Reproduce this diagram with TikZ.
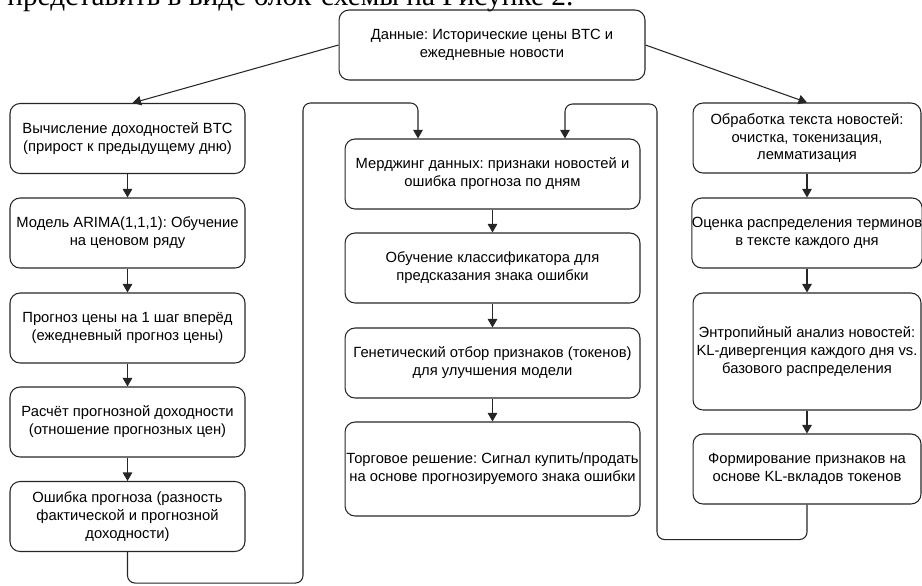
\documentclass[tikz,border=0pt]{standalone}
\usepackage{fontspec}
\setmainfont{Liberation Sans}
\newfontfamily\bodyserif{Liberation Serif}
\usetikzlibrary{arrows.meta}
\frenchspacing

\begin{document}
\begin{tikzpicture}[x=0.02cm, y=-0.02cm,
    stage/.style={draw=black!85, line width=0.6pt, rounded corners=0.2cm, align=center,
        inner sep=0pt, minimum height=1.4cm, font=\fontsize{8.4}{10.2}\selectfont},
    leftcol/.style={stage, minimum width=4.7cm},
    midcol/.style={stage, minimum width=5.9cm},
    rightcol/.style={stage, minimum width=4.56cm},
    flow/.style={draw=black!85, line width=0.6pt, rounded corners=0.15cm,
        -{Triangle[length=0.17cm, width=0.19cm]}}]
        \useasboundingbox (0, 0) rectangle (922, 585);

        \begin{scope}
            \clip (0, 0) rectangle (922, 585);
            \node[anchor=base west, inner sep=0pt, font=\bodyserif\fontsize{16.7}{20}\selectfont] (caption) at (7, 5)
                {представить в виде блок-схемы на Рисунке 2.};
        \end{scope}

        \node[stage, minimum width=6.12cm] (data) at (492, 45) {Данные: Исторические цены BTC и\\ежедневные новости};

        \node[leftcol] (ret) at (127.5, 138.5) {Вычисление доходностей BTC\\(прирост к предыдущему дню)};
        \node[leftcol] (arima) at (127.5, 233) {Модель ARIMA(1,1,1): Обучение\\на ценовом ряду};
        \node[leftcol] (fcst) at (127.5, 328) {Прогноз цены на 1 шаг вперёд\\(ежедневный прогноз цены)};
        \node[leftcol] (fret) at (127.5, 422) {Расчёт прогнозной доходности\\(отношение прогнозных цен)};
        \node[leftcol] (err) at (127.5, 516.5) {Ошибка прогноза (разность\\фактической и прогнозной\\доходности)};

        \node[midcol] (merge) at (492.5, 174) {Мерджинг данных: признаки новостей и\\ошибка прогноза по дням};
        \node[midcol] (clf) at (492.5, 268) {Обучение классификатора для\\предсказания знака ошибки};
        \node[midcol] (ga) at (492.5, 363) {Генетический отбор признаков (токенов)\\для улучшения модели};
        \node[midcol, minimum height=1.88cm] (trade) at (492.5, 469) {Торговое решение: Сигнал купить/продать\\на основе прогнозируемого знака ошибки};

        \node[rightcol] (prep) at (807, 138) {Обработка текста новостей:\\очистка, токенизация,\\лемматизация};
        \node[rightcol] (dist) at (807, 233) {Оценка распределения терминов\\в тексте каждого дня};
        \node[rightcol, minimum height=2.34cm] (kl) at (807, 351.5) {Энтропийный анализ новостей:\\KL-дивергенция каждого дня vs.\\базового распределения};
        \node[rightcol] (feat) at (807, 469) {Формирование признаков на\\основе KL-вкладов токенов};

        \draw[flow] (data.west) -- ([xshift=0.1cm]ret.north);
        \draw[flow] (data.east) -- (prep.north);

        \draw[flow] (ret) -- (arima);
        \draw[flow] (arima) -- (fcst);
        \draw[flow] (fcst) -- (fret);
        \draw[flow] (fret) -- (err);

        \draw[flow] (merge) -- (clf);
        \draw[flow] (clf) -- (ga);
        \draw[flow] (ga) -- (trade);

        \draw[flow] (prep) -- (dist);
        \draw[flow] (dist) -- (kl);
        \draw[flow] (kl) -- (feat);

        \draw[flow] (err.south) -- ++(0, 31) -| (303, 103) -| ([xshift=-1.49cm]merge.north);
        \draw[flow] (feat.south) -- ++(0, 35) -| (657, 104) -| ([xshift=1.45cm]merge.north);
    \end{tikzpicture}
\end{document}
